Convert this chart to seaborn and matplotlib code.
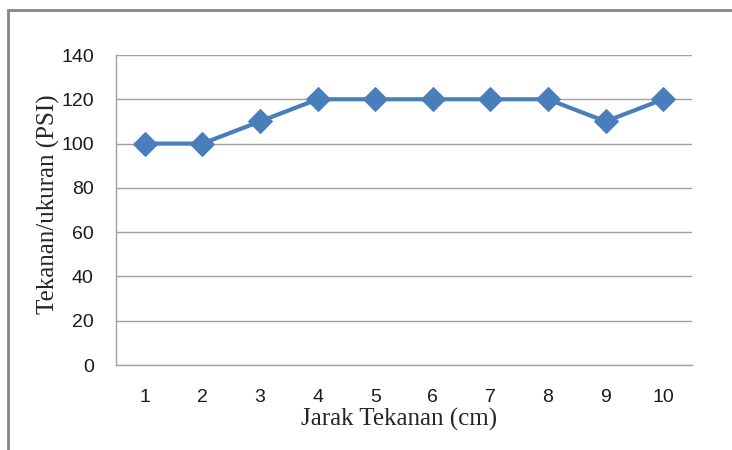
import matplotlib
matplotlib.use("Agg")
import matplotlib.pyplot as plt
import seaborn as sns
import pandas as pd
from matplotlib.patches import Rectangle

jarak = [1, 2, 3, 4, 5, 6, 7, 8, 9, 10]
tekanan = [100, 100, 110, 120, 120, 120, 120, 120, 110, 120]
yticks = [0, 20, 40, 60, 80, 100, 120, 140]

sns.set_theme(style="white")
plt.rcParams['font.family'] = ['Liberation Sans', 'DejaVu Sans']

df = pd.DataFrame({"Jarak": jarak, "Tekanan": tekanan})

fig = plt.figure(figsize=(7.32, 4.5), dpi=100)
ax = fig.add_axes([116/732, 1-365/450, (692-116)/732, (365-55)/450])

sns.lineplot(data=df, x="Jarak", y="Tekanan", ax=ax, color="#4A7EBB",
             linewidth=3, marker="D", markersize=12, markeredgecolor="#4A7EBB",
             zorder=3)

ax.set_xlim(0.5, 10.5)
ax.set_ylim(0, 140)
ax.set_xticks(jarak)
ax.set_xticklabels([str(v) for v in jarak])
ax.set_yticks(yticks)
ax.set_yticklabels([str(v) for v in yticks])
ax.grid(axis="y", color="#A0A0A0", linewidth=1)
ax.set_axisbelow(True)
for s in ["top", "right"]:
    ax.spines[s].set_visible(False)
for s in ["left", "bottom"]:
    ax.spines[s].set_color("#A0A0A0")
    ax.spines[s].set_linewidth(1)
ax.tick_params(axis="both", length=0, labelsize=14, colors="#1a1a1a")
ax.tick_params(axis="x", pad=17)
ax.tick_params(axis="y", pad=16)

ax.set_xlabel("Jarak Tekanan (cm)", family=["Liberation Serif"], fontsize=18, va="center")
ax.xaxis.set_label_coords(0.491, -0.177)
ax.set_ylabel("Tekanan/ukuran (PSI)", family=["Liberation Serif"], fontsize=18, va="center")
ax.yaxis.set_label_coords(-0.118, 0.52)

fig.patches.append(Rectangle((8/732, -0.1), 1.2, 1-10/450+0.1, transform=fig.transFigure,
                             fill=False, edgecolor="#868686", linewidth=2))

fig.savefig("out.png", dpi=100)
